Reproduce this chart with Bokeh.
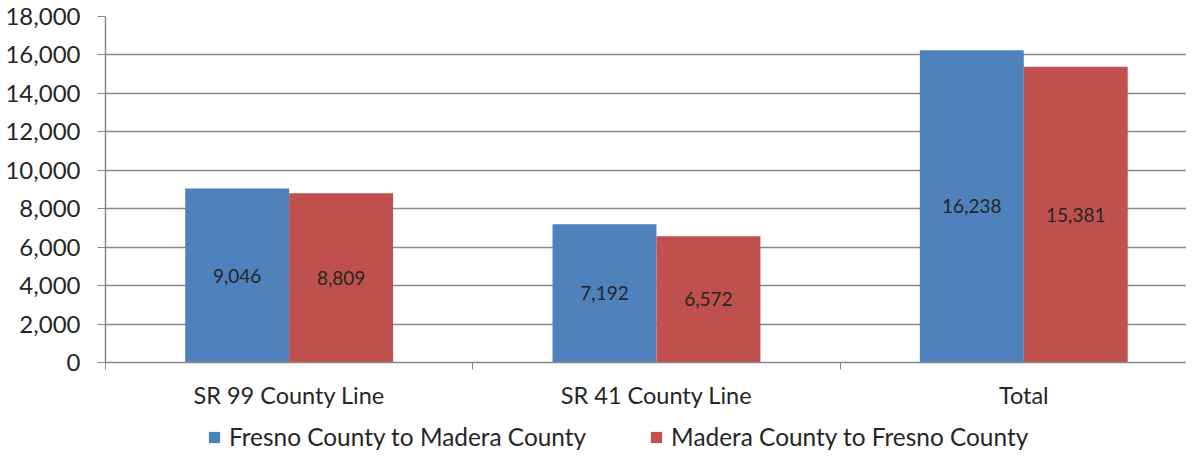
from bokeh.plotting import figure
from bokeh.layouts import column
from bokeh.models import (ColumnDataSource, Range1d, FixedTicker, NumeralTickFormatter,
                          Legend, LegendItem, LabelSet)
from bokeh.core.properties import value
from bokeh.embed import file_html
from bokeh.resources import INLINE

categories = ["SR 99 County Line", "SR 41 County Line", "Total"]
series_names = ["Fresno County to Madera County", "Madera County to Fresno County"]
fresno_to_madera = [9046, 7192, 16238]
madera_to_fresno = [8809, 6572, 15381]
colors = ["#4F81BD", "#C0504D"]
y_ticks = [0, 2000, 4000, 6000, 8000, 10000, 12000, 14000, 16000, 18000]

FONT = "Lato"
TXT = "#262626"
AX = "#898989"

bar_w = 0.283
idx = list(range(len(categories)))
centers = [i + 0.5 for i in idx]

p = figure(width=1186, height=413, output_backend="svg", toolbar_location=None,
           x_range=Range1d(0, 2.943), y_range=Range1d(0, 18000),
           min_border_left=105, min_border_right=0, min_border_top=16, min_border_bottom=51)
p.outline_line_color = None
p.background_fill_color = "white"
p.border_fill_color = "white"

for k, (vals, col) in enumerate(zip([fresno_to_madera, madera_to_fresno], colors)):
    off = (k - 0.5) * bar_w
    xs = [c + off for c in centers]
    src = ColumnDataSource(dict(x=xs, top=vals, mid=[v / 2 for v in vals],
                                lab=[f"{v:,}" for v in vals]))
    p.vbar(x="x", top="top", bottom=0, width=bar_w, source=src,
           fill_color=col, line_color=None)
    p.add_layout(LabelSet(x="x", y="mid", text="lab", source=src,
                          text_align="center", text_baseline="middle",
                          text_font=value(FONT), text_font_size="19px", text_color=TXT))

# axes
p.xaxis.ticker = FixedTicker(ticks=centers, minor_ticks=[0, 1, 2, 3])
p.xaxis.major_label_overrides = {c: cat for c, cat in zip(centers, categories)}
p.xaxis.major_tick_line_color = None
p.xaxis.minor_tick_line_color = AX
p.xaxis.minor_tick_out = 7
p.xaxis.minor_tick_in = 0
p.xaxis.axis_line_color = AX
p.xaxis.axis_line_width = 1.5
p.xaxis.major_label_text_font = FONT
p.xaxis.major_label_text_font_size = "23.5px"
p.xaxis.major_label_text_color = TXT
p.xaxis.major_label_standoff = 11

p.yaxis.ticker = FixedTicker(ticks=y_ticks)
p.yaxis.formatter = NumeralTickFormatter(format="0,0")
p.yaxis.axis_line_color = AX
p.yaxis.axis_line_width = 1.5
p.yaxis.major_tick_line_color = AX
p.yaxis.major_tick_out = 8
p.yaxis.major_tick_in = 0
p.yaxis.minor_tick_line_color = None
p.yaxis.major_label_text_font = FONT
p.yaxis.major_label_text_font_size = "24px"
p.yaxis.major_label_text_color = TXT
p.yaxis.major_label_standoff = 17

p.xgrid.grid_line_color = None
p.ygrid.grid_line_color = AX
p.ygrid.grid_line_width = 1.5

# legend strip below the chart (its swatches use out-of-view stand-in bars)
lg = figure(width=1186, height=38, output_backend="svg", toolbar_location=None,
            x_range=Range1d(0, 1), y_range=Range1d(0, 1),
            x_axis_location=None, y_axis_location=None,
            min_border=0, min_border_left=0, min_border_right=0,
            min_border_top=0, min_border_bottom=0)
lg.outline_line_color = None
lg.background_fill_color = "white"
lg.border_fill_color = "white"
lg.xgrid.grid_line_color = None
lg.ygrid.grid_line_color = None
items = []
for n, col in zip(series_names, colors):
    r = lg.vbar(x=[0.5], bottom=[-5], top=[-4], width=0.1, fill_color=col, line_color=None)
    items.append(LegendItem(label=n, renderers=[r]))
legend = Legend(items=items, orientation="horizontal", location=(102, 0),
                label_text_font=FONT, label_text_font_size="24.4px", label_text_color=TXT,
                glyph_width=14, glyph_height=14, label_standoff=8, spacing=63,
                border_line_color=None, background_fill_alpha=0, padding=0, margin=0)
lg.add_layout(legend, "center")

layout = column(p, lg, spacing=0)
open("out.html", "w").write(file_html(layout, INLINE))
